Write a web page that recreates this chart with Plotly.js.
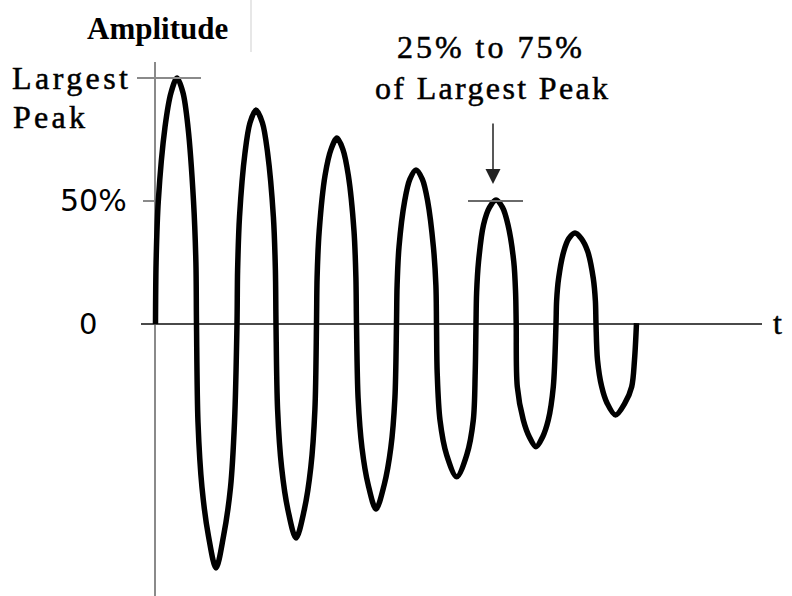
<!DOCTYPE html>
<html><head><meta charset="utf-8">
<script src="https://cdn.plot.ly/plotly-3.0.1.min.js"></script>
<style>html,body{margin:0;padding:0;background:#fff}#chart{width:792px;height:596px}</style>
</head><body><div id="chart"></div>
<script>
// time (arbitrary units) and amplitude (% of largest peak)
const t = [
  0.5,1.1,3.3,10,16,22,28,33,38.5,40.9,41.5,
  43,47,53.5,61,68.5,75.5,79.5,82,
  82.6,84.5,90,95,101,107.4,112.6,118.4,120.4,121,
  122.6,126.6,133,141,149.2,155.8,159.9,161.5,
  162.1,164.2,170.1,176.1,182,187.8,193.3,199,200.9,201.5,
  203.1,207,213.2,221,229.2,235.8,239.9,241.5,
  242.1,244,249.7,254.8,261,267.4,272.6,278.4,280.9,281.5,
  282.2,285,291.7,301.7,311.7,318.3,320.2,321,
  321.6,323.5,328.5,334.5,341,347.5,353,358.8,360.6,361.2,
  362.3,368.3,374.5,381,387.5,393.3,398.3,401,
  401.6,403.6,408.8,413.9,420,426.2,432.6,438.3,440.4,441,
  442.5,446.7,452,460.5,470,476.7,479.5,481.5
];
const amplitude = [
  0,25,50,80,94,100,94,80,50,25,0,
  -40,-66.5,-86.3,-99.2,-86.3,-66.5,-40,0,
  21.8,43.5,69.6,81.8,87,81.8,69.6,43.5,21.8,0,
  -34.8,-58.3,-75.7,-87,-75.7,-58.3,-34.8,0,
  18.9,37.8,60.5,71.1,75.6,71.1,60.5,37.8,18.9,0,
  -30.1,-50.4,-65.4,-75.2,-65.4,-50.4,-30.1,0,
  15.7,31.3,50.1,58.8,62.6,58.8,50.1,31.3,15.7,0,
  -20,-39.1,-53.3,-62.1,-53.3,-39.1,-20,0,
  12.6,25.2,40.3,47.4,50.4,47.4,40.3,25.2,12.6,0,
  -25.5,-39,-46,-49.9,-46,-39,-25.5,0,
  9.3,18.5,29.6,34.8,37,34.8,29.6,18.5,9.3,0,
  -14.6,-25.5,-32.1,-37,-32.1,-25.5,-14.6,0.4
];
const levelValues = [100, 50, 0];
const levelLabels = ['50%', '0'];
const peakLabel = ['Largest', 'Peak'];
const calloutLines = ['25% to 75%', 'of Largest Peak'];
const yTitle = 'Amplitude';
const xTitle = 't';
const markedPeakT = 341;

const L = 141, T = 62, W = 621, H = 534;
const XR = [-14, 607], YR = [-110.57, 106.5];
function pxX(p){ return (p - L) / W; }
function pxY(p){ return (T + H - p) / H; }
function dX(v){ return (v - XR[0]) / (XR[1] - XR[0]); }
function dY(v){ return (v - YR[0]) / (YR[1] - YR[0]); }

const serif = 'Liberation Serif, serif';
const sans = 'DejaVu Sans, sans-serif';

const data = [{
  x: t, y: amplitude, type: 'scatter', mode: 'lines',
  line: {color: '#000', width: 5.5, shape: 'spline', smoothing: 0.9},
  hoverinfo: 'skip', showlegend: false
}];

// annotation index -> [left px, wanted width px] for the wide-set serif labels
const fitBox = {1: [12, 116], 2: [13, 72], 6: [397, 185], 7: [375, 233]};

const layout = {
  width: 792, height: 596,
  margin: {l: L, r: 792 - L - W, t: T, b: 596 - T - H, pad: 0},
  paper_bgcolor: '#fff', plot_bgcolor: '#fff',
  showlegend: false,
  xaxis: {range: XR, showgrid: false, showticklabels: false, ticks: '', showline: false,
          zeroline: true, zerolinecolor: '#8a8a8a', zerolinewidth: 2, fixedrange: true},
  yaxis: {range: YR, showgrid: false, showticklabels: false, ticks: '', showline: false,
          zeroline: true, zerolinecolor: '#4a4a4a', zerolinewidth: 2, fixedrange: true},
  shapes: [
    {type: 'line', xref: 'paper', yref: 'paper', x0: pxX(137), x1: dX(46), y0: dY(levelValues[0]), y1: dY(levelValues[0]),
     line: {color: '#8a8a8a', width: 2}},
    {type: 'line', xref: 'paper', yref: 'paper', x0: pxX(143), x1: dX(0), y0: dY(levelValues[1]), y1: dY(levelValues[1]),
     line: {color: '#8a8a8a', width: 2}},
    {type: 'line', xref: 'x', yref: 'y', x0: markedPeakT - 28, x1: markedPeakT + 27, y0: levelValues[1], y1: levelValues[1],
     line: {color: '#6a6a6a', width: 2}},
    {type: 'line', xref: 'paper', yref: 'paper', x0: pxX(251), x1: pxX(251), y0: pxY(0), y1: pxY(52),
     line: {color: '#cfcfcf', width: 1}}
  ],
  annotations: [
    {xref: 'paper', yref: 'paper', x: pxX(157), y: pxY(28), text: '<b>' + yTitle + '</b>', showarrow: false,
     xanchor: 'center', yanchor: 'middle', font: {family: serif, size: 31, color: '#000'}},
    {xref: 'paper', yref: 'paper', x: pxX(12), y: pxY(78), text: peakLabel[0], showarrow: false,
     xanchor: 'left', yanchor: 'middle', font: {family: serif, size: 32, color: '#000'}},
    {xref: 'paper', yref: 'paper', x: pxX(13), y: pxY(117), text: peakLabel[1], showarrow: false,
     xanchor: 'left', yanchor: 'middle', font: {family: serif, size: 32, color: '#000'}},
    {xref: 'paper', yref: 'paper', x: pxX(129), y: dY(levelValues[1]), text: levelLabels[0], showarrow: false,
     xanchor: 'right', yanchor: 'middle', font: {family: sans, size: 30, color: '#000'}},
    {xref: 'paper', yref: 'paper', x: pxX(99), y: dY(levelValues[2]), text: levelLabels[1], showarrow: false,
     xanchor: 'right', yanchor: 'middle', font: {family: sans, size: 29, color: '#000'}},
    {xref: 'paper', yref: 'paper', x: pxX(771), y: pxY(323), text: xTitle, showarrow: false,
     xanchor: 'left', yanchor: 'middle', font: {family: serif, size: 32, color: '#000'}},
    {xref: 'paper', yref: 'paper', x: pxX(397), y: pxY(47), text: calloutLines[0], showarrow: false,
     xanchor: 'left', yanchor: 'middle', font: {family: serif, size: 32, color: '#000'}},
    {xref: 'paper', yref: 'paper', x: pxX(375), y: pxY(88), text: calloutLines[1], showarrow: false,
     xanchor: 'left', yanchor: 'middle', font: {family: serif, size: 32, color: '#000'}},
    {xref: 'paper', yref: 'paper', x: pxX(493), y: pxY(184), text: '', showarrow: true,
     ax: 0, ay: -62, arrowhead: 2, arrowsize: 2, arrowwidth: 1.5, arrowcolor: '#222', standoff: 0}
  ]
};

Plotly.newPlot('chart', data, layout, {staticPlot: true, displayModeBar: false}).then(function(gd){
  const rootBox = gd.getBoundingClientRect();
  gd.querySelectorAll('.annotation').forEach(function(g){
    const idx = +g.getAttribute('data-index');
    const txt = g.querySelector('.annotation-text');
    if (!txt) return;
    if (idx === 1 || idx === 2 || idx === 5 || idx === 6 || idx === 7) {
      txt.style.stroke = '#000';
      txt.style.strokeWidth = '0.5px';
    }
    const fit = fitBox[idx];
    if (!fit) return;
    const n = txt.textContent.length;
    const w0 = txt.getComputedTextLength();
    const ls = Math.max(0, (fit[1] - w0) / Math.max(1, n - 1));
    txt.style.letterSpacing = ls.toFixed(2) + 'px';
    const bb = txt.getBoundingClientRect();
    const dx = (fit[0] + rootBox.left) - bb.left;
    const x0 = parseFloat(txt.getAttribute('x') || '0');
    txt.setAttribute('x', x0 + dx);
  });
});
</script>
</body></html>
